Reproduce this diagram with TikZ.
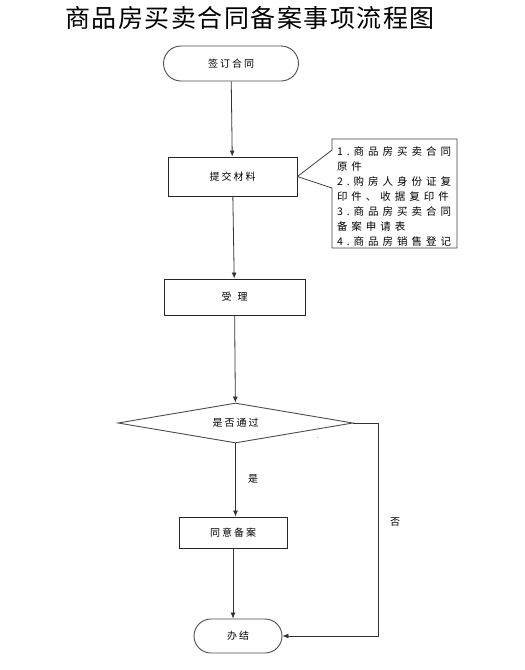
\documentclass[tikz,border=0pt]{standalone}
\usepackage{fontspec}
\setmainfont{Noto Sans CJK SC}
\newfontfamily\cjkbox[LetterSpace=20]{Noto Sans CJK SC}
\newfontfamily\cjknote[LetterSpace=38]{Noto Sans CJK SC}
\newfontfamily\cjktitle[LetterSpace=6]{Noto Sans CJK SC}
\usetikzlibrary{arrows.meta,positioning,shapes.geometric,shapes.misc}

\begin{document}
\begin{tikzpicture}[x=1pt, y=-1pt,
  box/.style={draw=black!85, line width=0.9pt, align=center, inner sep=0pt,
              font=\cjkbox\fontsize{10}{12}\selectfont},
  term/.style={box, rounded rectangle, draw=black!70},
  decide/.style={box, diamond, aspect=5.875, draw=black!70},
  arr/.style={-{Latex[length=6pt, width=5pt]}, line width=0.8pt, draw=black!80},
  lbl/.style={font=\cjkbox\fontsize{10}{12}\selectfont, inner sep=0pt}]
  \useasboundingbox (0,0) rectangle (525,670);
  \node[font=\cjktitle\fontsize{25}{28}\selectfont] (title) at (250,18) {商品房买卖合同备案事项流程图};

  \node[term, minimum width=135pt, minimum height=35pt] (sign) at (231,63.5) {签订合同};
  \node[box, minimum width=129pt, minimum height=39pt] (submit) at (232.5,176.5) {提交材料};
  \node[box, minimum width=141pt, minimum height=36pt] (accept) at (234.5,297) {受\hspace{6pt}理};
  \node[decide, minimum width=235pt, minimum height=40pt] (check) at (235.5,423) {是否通过};
  \node[box, minimum width=108pt, minimum height=31pt] (agree) at (233,532.5) {同意备案};
  \node[term, minimum width=88pt, minimum height=34pt] (finish) at (238,636) {办结};

  % callout with material list
  \node[text width=124pt, align=left, inner sep=0pt,
        font=\cjknote\fontsize{10.5}{15}\selectfont] (list) at (399,196)
    {1.商品房买卖合同\\原件\\2.购房人身份证复\\印件、收据复印件\\3.商品房买卖合同\\备案申请表\\4.商品房销售登记};
  \draw[black!75, line width=0.8pt]
    (332,150) -- (332,139) -- (457,139) -- (457,248) -- (332,248) -- (332,188)
    -- (submit.east) -- cycle;

  \coordinate (turn) at (378,423);
  \draw[arr] (sign) -- (submit);
  \draw[arr] (submit) -- (accept);
  \draw[arr] (accept) -- (check);
  \draw[arr] (check.south) -- (check.south |- agree.north);
  \draw[arr] (agree.south) -- (agree.south |- finish.north);
  \draw[arr] (check.east) -- (turn) |- (finish.east);

  \node[lbl] (yes) at (253,479) {是};
  \node[lbl] (no) at (395,522) {否};
  \node[font=\fontsize{6}{6}\selectfont, inner sep=0pt] (dot) at (318,438) {.};
\end{tikzpicture}
\end{document}
